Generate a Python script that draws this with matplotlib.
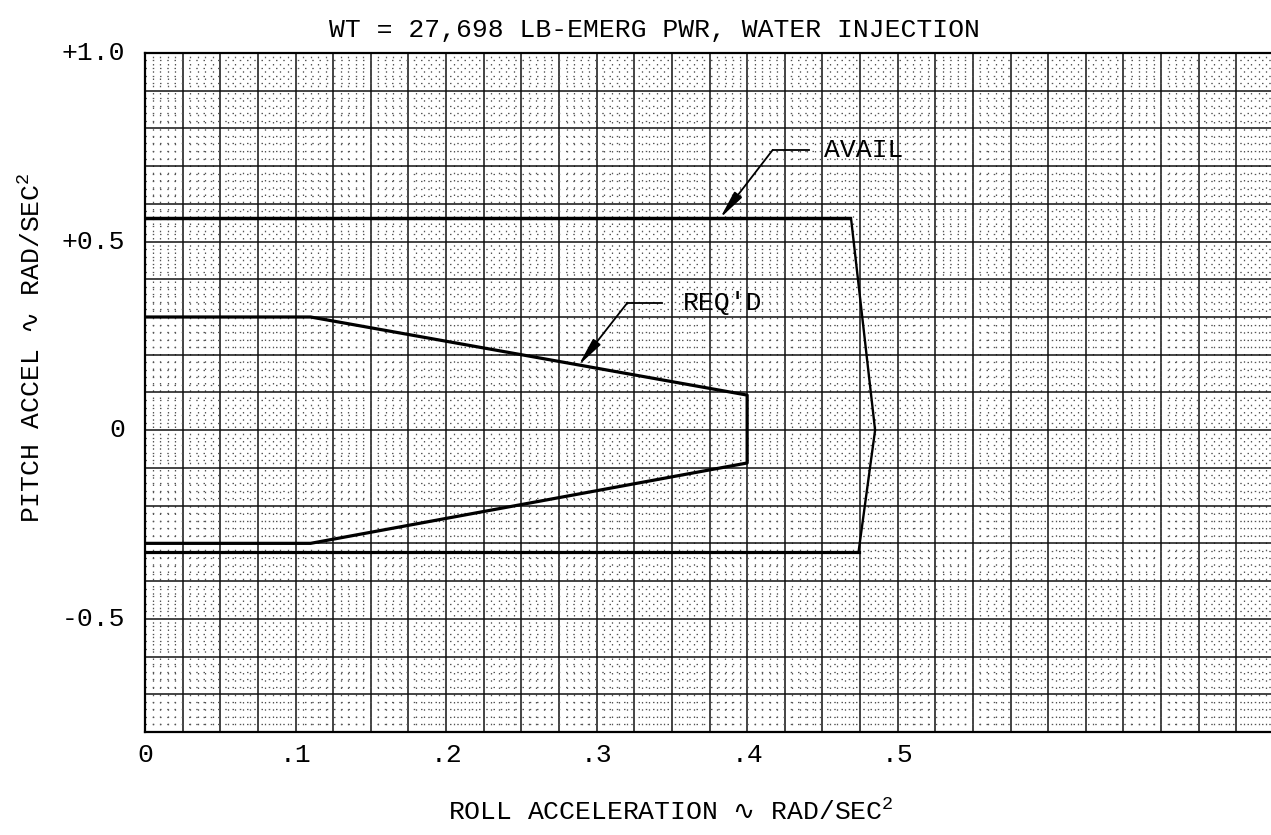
import matplotlib
matplotlib.use("Agg")
import matplotlib.pyplot as plt
from matplotlib.ticker import MultipleLocator

plt.rcParams.update({
    "font.family": ["Liberation Mono", "DejaVu Sans"],
    "font.size": 19,
    "figure.facecolor": "white",
    "axes.facecolor": "white",
})

# available envelope (outer curve)
avail_x = [0.0, 0.469, 0.485, 0.474, 0.0]
avail_y = [0.562, 0.562, 0.0, -0.323, -0.323]

# required envelope (inner curve)
req_x = [0.0, 0.11, 0.40, 0.40, 0.11, 0.0]
req_y = [0.30, 0.30, 0.093, -0.087, -0.30, -0.30]

xticks = [0.0, 0.1, 0.2, 0.3, 0.4, 0.5]
xtick_labels = ["0", ".1", ".2", ".3", ".4", ".5"]
yticks = [1.0, 0.5, 0.0, -0.5]
ytick_labels = ["+1.0", "+0.5", "0", "-0.5"]

fig = plt.figure(figsize=(12.71, 8.35), dpi=100)
ax = fig.add_axes([0.1141, 0.1234, 0.8859, 0.8132])
ax.set_xlim(0, 0.748)
ax.set_ylim(-0.8, 1.0)

# graph-paper grid
ax.xaxis.set_major_locator(MultipleLocator(0.025))
ax.xaxis.set_minor_locator(MultipleLocator(0.005))
ax.yaxis.set_major_locator(MultipleLocator(0.1))
ax.yaxis.set_minor_locator(MultipleLocator(0.02))
ax.grid(which="major", color="#111111", lw=1.1)
ax.grid(which="minor", color="#555555", lw=0.9, ls=(0, (1.2, 4.6)))
ax.set_axisbelow(True)

# tick labels placed by hand (grid locators are the fine ones)
ax.tick_params(which="both", length=0, labelbottom=False, labelleft=False)
for x, s in zip(xticks, xtick_labels):
    ax.annotate(s, xy=(x, -0.8), xytext=(0, -11), textcoords="offset pixels",
                ha="center", va="top", fontsize=19, annotation_clip=False)
for y, s in zip(yticks, ytick_labels):
    ax.annotate(s, xy=(0, y), xytext=(-20, 0), textcoords="offset pixels",
                ha="right", va="center", fontsize=19, annotation_clip=False)

for side in ["left", "top", "bottom"]:
    ax.spines[side].set_linewidth(1.6)
ax.spines["right"].set_visible(False)

ax.plot(avail_x[:2], avail_y[:2], color="black", lw=2.5, solid_capstyle="butt")
ax.plot(avail_x[1:4], avail_y[1:4], color="black", lw=1.7)
ax.plot(avail_x[3:], avail_y[3:], color="black", lw=2.3)
ax.plot(req_x, req_y, color="black", lw=2.3)

# callouts
for label, tip, elbow, end, tx in [
    ("AVAIL", (0.382, 0.562), (0.417, 0.743), 0.441, 0.451),
    ("REQ'D", (0.288, 0.172), (0.3205, 0.338), 0.3437, 0.357),
]:
    ax.annotate("", xy=tip, xytext=elbow,
                arrowprops=dict(arrowstyle="-|>,head_length=0.9,head_width=0.15",
                                color="black", lw=1.3, shrinkA=0, shrinkB=0))
    ax.plot([elbow[0], end], [elbow[1], elbow[1]], color="black", lw=1.3)
    ax.text(tx, elbow[1], label, ha="left", va="center", fontsize=19)

fig.text(0.5146, 0.964, "WT = 27,698 LB-EMERG PWR, WATER INJECTION",
         ha="center", va="center", fontsize=19)
fig.text(0.528, 0.0275, "ROLL ACCELERATION $\u223f$ RAD/SEC$^\\mathregular{2}$",
         ha="center", va="center", fontsize=19)
fig.text(0.025, 0.584, "PITCH ACCEL $\u223f$ RAD/SEC$^\\mathregular{2}$",
         ha="center", va="center", rotation=90, fontsize=19)

fig.savefig("out.png", dpi=100)
